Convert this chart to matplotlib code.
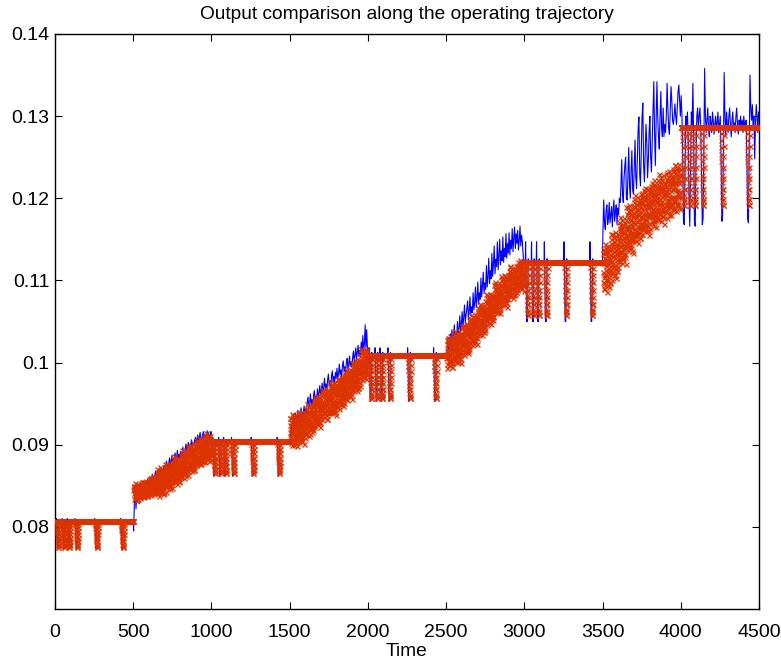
import numpy as np
import matplotlib
matplotlib.use("Agg")
import matplotlib.pyplot as plt

plt.rcParams['font.family'] = ['Liberation Sans', 'DejaVu Sans']

# ---------------- text / axes ----------------
title = "Output comparison along the operating trajectory"
xlabel = "Time"
xticks = [0, 500, 1000, 1500, 2000, 2500, 3000, 3500, 4000, 4500]
yticks = [0.08, 0.09, 0.10, 0.11, 0.12, 0.13, 0.14]
ytick_labels = ['0.08', '0.09', '0.1', '0.11', '0.12', '0.13', '0.14']

# ---------------- plateau (constant set-point) segments ----------------
plateau_start = [0, 1000, 2000, 3000, 4000]
plateau_red = [0.0807, 0.0904, 0.1009, 0.1122, 0.1287]
plateau_red_bottom = [0.0776, 0.0866, 0.0957, 0.1058, 0.1192]
plateau_blue_bottom = [0.0773, 0.0862, 0.0953, 0.1050, 0.1165]
plateau_blue_overshoot = [0.0003, 0.0005, 0.0009, 0.0025]
dip_offsets = [10, 48, 80, 130, 256, 422]
red_dip_profile = [0.08, 0.17, 0.26, 0.35, 0.44, 0.53, 0.62, 0.71, 0.8, 0.88,
                   0.95, 1.0, 1.0, 0.93, 0.8, 0.66, 0.52, 0.38, 0.24, 0.1]
blue_pre_profile = [0.5, 1.0, 0.4]
blue_dip_profile = [0.15, 0.35, 0.55, 0.72, 0.86, 0.95, 1.0, 0.97, 1.0, 0.96,
                    0.85, 0.68, 0.48, 0.28, 0.1, -0.06, -0.04, 0.03, 0.0]

# ---------------- ramp segments (values in 1e-4 units) ----------------
ramp_start = [500, 1500, 2500, 3500]

ramp1_red_a = [
    845, 848, 850, 847, 842, 839, 836, 840, 844, 849, 851, 848, 845, 840, 837, 834, 838, 842, 846, 850, 847, 841, 838, 841, 846,
    842, 839, 843, 847, 852, 855, 851, 846, 841, 838, 840, 844, 850, 854, 852, 847, 843, 839, 837, 842, 848, 851, 855, 849, 844,
    858, 854, 848, 842, 839, 845, 853, 860, 856, 849, 844, 852, 859, 862, 855, 846, 840, 843, 850, 856, 861, 849, 842, 846, 851,
    853, 862, 870, 866, 855, 845, 838, 843, 852, 861, 868, 873, 863, 851, 842, 848, 857, 865, 859, 847, 840, 850, 860, 867, 856,
    870, 877, 867, 857, 849, 843, 852, 864, 873, 868, 859, 850, 855, 865, 875, 871, 860, 853, 846, 856, 867, 874, 878, 863, 854,
    857, 864, 873, 882, 886, 876, 867, 859, 854, 862, 871, 879, 883, 873, 861, 852, 858, 869, 876, 884, 877, 865, 856, 866, 874,
    877, 870, 861, 867, 878, 886, 893, 888, 880, 871, 864, 859, 868, 876, 885, 891, 882, 873, 866, 872, 883, 889, 879, 868, 863,
    899, 890, 879, 871, 876, 885, 893, 900, 895, 882, 874, 868, 878, 889, 896, 902, 891, 880, 873, 869, 881, 892, 898, 888, 875,
    882, 875, 884, 895, 904, 900, 891, 883, 878, 888, 899, 908, 902, 893, 885, 877, 881, 894, 903, 907, 896, 886, 879, 890, 901,
    902, 895, 886, 879, 885, 896, 907, 914, 908, 899, 889, 882, 892, 903, 910, 904, 894, 884, 880, 890, 900, 911, 905, 893, 888]
ramp1_red_b = [
    841, 850, 834, 846, 853, 838, 844, 836, 849, 840, 852, 845, 833, 847, 842, 850, 837, 846, 839, 851, 835, 848, 841, 853, 837,
    851, 843, 855, 839, 847, 836, 850, 854, 842, 846, 838, 852, 848, 841, 856, 845, 851, 837, 853, 843, 847, 840, 855, 841, 849,
    843, 853, 849, 858, 845, 856, 840, 852, 857, 847, 854, 842, 859, 848, 844, 853, 858, 846, 851, 841, 856, 848, 855, 843, 860,
    860, 841, 864, 853, 847, 868, 858, 844, 862, 851, 869, 847, 856, 866, 850, 843, 863, 857, 846, 869, 854, 860, 841, 863, 852,
    855, 873, 863, 850, 869, 859, 876, 852, 865, 854, 872, 860, 848, 867, 871, 856, 851, 875, 858, 866, 853, 872, 861, 847, 869,
    878, 863, 856, 875, 869, 882, 860, 871, 854, 877, 866, 873, 858, 880, 864, 876, 857, 870, 882, 862, 866, 876, 855, 873, 879,
    874, 884, 862, 887, 871, 878, 890, 868, 873, 886, 865, 882, 891, 869, 880, 866, 877, 888, 871, 862, 883, 878, 868, 887, 872,
    897, 875, 889, 881, 895, 870, 891, 886, 878, 898, 873, 887, 883, 892, 872, 889, 895, 876, 882, 893, 869, 888, 898, 879, 884,
    883, 894, 902, 878, 897, 886, 900, 905, 881, 892, 884, 903, 889, 899, 877, 896, 886, 901, 893, 880, 905, 889, 896, 882, 899,
    900, 884, 903, 911, 891, 907, 887, 896, 909, 893, 904, 882, 901, 888, 907, 895, 910, 885, 902, 892, 906, 889, 881, 899, 905]
ramp1_blue = [
    795, 830, 846, 822, 838, 850, 843, 828, 845, 852, 839, 847, 833, 849, 855, 846, 840, 853, 858, 849,
    853, 861, 848, 856, 864, 858, 851, 862, 868, 857, 863, 870, 859, 866, 861, 872, 865, 858, 869, 875,
    866, 873, 880, 871, 868, 878, 884, 874, 880, 887, 877, 872, 884, 890, 881, 886, 893, 882, 888, 884,
    892, 885, 890, 897, 888, 884, 895, 901, 891, 897, 903, 893, 889, 900, 906, 896, 902, 898, 905, 909,
    901, 907, 912, 903, 908, 915, 906, 900, 910, 916, 908, 913, 905, 911, 917, 909, 914, 906, 912, 916]

ramp2_red_a = [
    915, 924, 932, 928, 917, 907, 900, 905, 914, 923, 930, 935, 925, 913, 904, 910, 919, 927, 921, 909, 902, 912, 922, 929, 918,
    922, 915, 906, 912, 923, 931, 938, 933, 925, 916, 909, 904, 913, 921, 930, 936, 927, 918, 911, 917, 928, 934, 924, 913, 908,
    934, 939, 943, 937, 928, 922, 917, 924, 931, 941, 946, 940, 933, 925, 919, 913, 921, 929, 936, 944, 938, 927, 920, 926, 935,
    931, 924, 933, 944, 953, 949, 940, 932, 927, 937, 948, 957, 951, 942, 934, 926, 930, 943, 952, 956, 945, 935, 928, 939, 950,
    942, 935, 944, 951, 961, 966, 958, 949, 940, 934, 938, 946, 956, 964, 960, 950, 943, 936, 931, 941, 952, 959, 967, 955, 945,
    962, 955, 946, 939, 945, 956, 967, 974, 968, 959, 949, 942, 952, 963, 970, 964, 954, 944, 940, 950, 960, 971, 965, 953, 948,
    973, 980, 970, 960, 952, 946, 955, 967, 976, 971, 962, 953, 958, 968, 978, 974, 963, 956, 949, 959, 970, 977, 981, 966, 957,
    985, 978, 970, 961, 957, 966, 977, 987, 981, 972, 964, 976, 986, 990, 980, 968, 959, 963, 973, 982, 988, 971, 962, 967, 975,
    999, 990, 979, 971, 976, 985, 993, 1000, 995, 982, 974, 968, 978, 989, 996, 1002, 991, 980, 973, 969, 981, 992, 998, 988, 975,
    987, 994, 1003, 1012, 1016, 1006, 997, 989, 984, 992, 1001, 1009, 1013, 1003, 991, 982, 988, 999, 1006, 1014, 1007, 995, 986, 996, 1004]
ramp2_red_b = [
    909, 933, 919, 902, 928, 914, 937, 905, 922, 908, 931, 916, 900, 925, 930, 911, 904, 936, 913, 924, 907, 932, 917, 899, 927,
    938, 909, 927, 917, 935, 903, 930, 923, 913, 940, 907, 925, 920, 932, 905, 928, 936, 911, 918, 933, 901, 926, 939, 915, 921,
    927, 944, 913, 936, 949, 921, 931, 916, 941, 924, 947, 933, 910, 938, 929, 943, 919, 935, 923, 946, 915, 939, 926, 950, 918,
    947, 922, 952, 938, 930, 957, 944, 926, 949, 935, 959, 929, 941, 954, 933, 924, 950, 943, 928, 958, 939, 946, 921, 951, 936,
    947, 960, 930, 964, 943, 952, 967, 939, 945, 962, 934, 957, 969, 940, 954, 936, 950, 965, 942, 931, 958, 951, 938, 963, 944,
    961, 940, 965, 976, 949, 970, 944, 956, 973, 952, 966, 938, 962, 946, 971, 955, 975, 942, 964, 951, 969, 947, 936, 960, 968,
    950, 969, 963, 980, 955, 975, 944, 967, 977, 958, 972, 949, 982, 961, 953, 970, 979, 956, 966, 947, 976, 960, 973, 951, 984,
    986, 966, 957, 982, 974, 991, 962, 977, 954, 985, 971, 980, 960, 989, 968, 983, 959, 976, 992, 965, 970, 984, 956, 979, 988,
    973, 988, 999, 967, 992, 978, 996, 1003, 971, 985, 975, 1000, 981, 994, 965, 990, 977, 997, 987, 969, 1002, 982, 991, 972, 995,
    1008, 993, 1016, 985, 1000, 979, 1005, 1013, 990, 998, 982, 1010, 1002, 988, 1017, 996, 1007, 980, 1012, 992, 999, 986, 1015, 989, 1004]
ramp2_blue = [
    905, 915, 928, 918, 912, 932, 925, 938, 921, 930, 942, 926, 934, 928, 945, 933, 927, 940, 947, 936,
    944, 937, 952, 958, 945, 950, 962, 948, 955, 944, 960, 966, 953, 959, 951, 968, 957, 963, 972, 960,
    966, 975, 962, 970, 981, 967, 974, 964, 979, 986, 972, 978, 969, 984, 990, 976, 983, 974, 988, 981,
    993, 980, 987, 998, 985, 991, 983, 996, 1002, 989, 995, 987, 1000, 1005, 992, 998, 1008, 995, 1001, 994,
    1006, 1014, 1000, 1009, 1018, 1004, 1012, 1021, 1007, 1015, 1010, 1025, 1012, 1033, 1015, 1022, 1046, 1018, 1040, 1016]

ramp3_red_a = [
    1005, 998, 1007, 1014, 1024, 1029, 1021, 1012, 1003, 997, 1001, 1009, 1019, 1027, 1023, 1013, 1006, 999, 994, 1004, 1015, 1022, 1030, 1018, 1008,
    1028, 1035, 1025, 1015, 1007, 1001, 1010, 1022, 1031, 1026, 1017, 1008, 1013, 1023, 1033, 1029, 1018, 1011, 1004, 1014, 1025, 1032, 1036, 1021, 1012,
    1044, 1035, 1024, 1016, 1021, 1030, 1038, 1045, 1040, 1027, 1019, 1013, 1023, 1034, 1041, 1047, 1036, 1025, 1018, 1014, 1026, 1037, 1043, 1033, 1020,
    1044, 1049, 1053, 1047, 1038, 1032, 1027, 1034, 1041, 1051, 1056, 1050, 1043, 1035, 1029, 1023, 1031, 1039, 1046, 1054, 1048, 1037, 1030, 1036, 1045,
    1050, 1059, 1067, 1063, 1052, 1042, 1035, 1040, 1049, 1058, 1065, 1070, 1060, 1048, 1039, 1045, 1054, 1062, 1056, 1044, 1037, 1047, 1057, 1064, 1053,
    1066, 1059, 1050, 1056, 1067, 1075, 1082, 1077, 1069, 1060, 1053, 1048, 1057, 1065, 1074, 1080, 1071, 1062, 1055, 1061, 1072, 1078, 1068, 1057, 1052,
    1084, 1077, 1068, 1061, 1067, 1078, 1089, 1096, 1090, 1081, 1071, 1064, 1074, 1085, 1092, 1086, 1076, 1066, 1062, 1072, 1082, 1093, 1087, 1075, 1070,
    1100, 1093, 1085, 1076, 1072, 1081, 1092, 1102, 1096, 1087, 1079, 1091, 1101, 1105, 1095, 1083, 1074, 1078, 1088, 1097, 1103, 1086, 1077, 1082, 1090,
    1087, 1094, 1103, 1112, 1116, 1106, 1097, 1089, 1084, 1092, 1101, 1109, 1113, 1103, 1091, 1082, 1088, 1099, 1106, 1114, 1107, 1095, 1086, 1096, 1104,
    1097, 1090, 1099, 1110, 1119, 1115, 1106, 1098, 1093, 1103, 1114, 1123, 1117, 1108, 1100, 1092, 1096, 1109, 1118, 1122, 1111, 1101, 1094, 1105, 1116]
ramp3_red_b = [
    1010, 1023, 993, 1027, 1006, 1015, 1030, 1002, 1008, 1025, 997, 1020, 1032, 1003, 1017, 999, 1013, 1028, 1005, 994, 1021, 1014, 1001, 1026, 1007,
    1024, 1003, 1028, 1039, 1012, 1033, 1007, 1019, 1036, 1015, 1029, 1001, 1025, 1009, 1034, 1018, 1038, 1005, 1027, 1014, 1032, 1010, 999, 1023, 1031,
    1015, 1034, 1028, 1045, 1020, 1040, 1009, 1032, 1042, 1023, 1037, 1014, 1047, 1026, 1018, 1035, 1044, 1021, 1031, 1012, 1041, 1025, 1038, 1016, 1049,
    1053, 1033, 1024, 1049, 1041, 1058, 1029, 1044, 1021, 1052, 1038, 1047, 1027, 1056, 1035, 1050, 1026, 1043, 1059, 1032, 1037, 1051, 1023, 1046, 1055,
    1041, 1056, 1067, 1035, 1060, 1046, 1064, 1071, 1039, 1053, 1043, 1068, 1049, 1062, 1033, 1058, 1045, 1065, 1055, 1037, 1070, 1050, 1059, 1040, 1063,
    1075, 1060, 1083, 1052, 1067, 1046, 1072, 1080, 1057, 1065, 1049, 1077, 1069, 1055, 1084, 1063, 1074, 1047, 1079, 1059, 1066, 1053, 1082, 1056, 1071,
    1070, 1094, 1080, 1063, 1089, 1075, 1098, 1066, 1083, 1069, 1092, 1077, 1061, 1086, 1091, 1072, 1065, 1097, 1074, 1085, 1068, 1093, 1078, 1060, 1088,
    1105, 1076, 1094, 1084, 1102, 1070, 1097, 1090, 1080, 1107, 1074, 1092, 1087, 1099, 1072, 1095, 1103, 1078, 1085, 1100, 1068, 1093, 1106, 1082, 1088,
    1095, 1112, 1081, 1104, 1117, 1089, 1099, 1084, 1109, 1092, 1115, 1101, 1078, 1106, 1097, 1111, 1087, 1103, 1091, 1114, 1083, 1107, 1094, 1118, 1086,
    1113, 1088, 1118, 1104, 1096, 1123, 1110, 1092, 1115, 1101, 1125, 1095, 1107, 1120, 1099, 1090, 1116, 1109, 1094, 1124, 1105, 1112, 1087, 1117, 1102]
ramp3_blue = [
    1009, 1018, 1031, 1012, 1026, 1035, 1019, 1040, 1024, 1033, 1046, 1028, 1036, 1030, 1050, 1034, 1041, 1057, 1038, 1046,
    1062, 1043, 1055, 1070, 1049, 1058, 1066, 1075, 1052, 1063, 1080, 1057, 1068, 1061, 1085, 1064, 1073, 1092, 1067, 1078,
    1098, 1071, 1085, 1077, 1103, 1080, 1094, 1110, 1084, 1097, 1089, 1118, 1092, 1105, 1127, 1096, 1112, 1102, 1133, 1105,
    1119, 1142, 1108, 1126, 1117, 1147, 1113, 1130, 1150, 1119, 1136, 1124, 1153, 1122, 1139, 1129, 1157, 1127, 1145, 1133,
    1158, 1131, 1149, 1139, 1163, 1135, 1152, 1165, 1139, 1157, 1145, 1161, 1137, 1149, 1166, 1142, 1155, 1147, 1130, 1124]

ramp4_red_a = [
    1133, 1123, 1110, 1097, 1091, 1104, 1121, 1136, 1127, 1113, 1101, 1120, 1135, 1141, 1126, 1107, 1094, 1100, 1115, 1129, 1138, 1112, 1098, 1106, 1118,
    1113, 1124, 1138, 1151, 1157, 1142, 1128, 1116, 1109, 1121, 1135, 1147, 1153, 1138, 1119, 1106, 1115, 1132, 1142, 1154, 1144, 1125, 1112, 1127, 1139,
    1133, 1123, 1136, 1153, 1167, 1161, 1147, 1135, 1127, 1142, 1159, 1173, 1164, 1150, 1138, 1126, 1132, 1152, 1165, 1171, 1155, 1139, 1129, 1145, 1162,
    1152, 1142, 1155, 1166, 1181, 1189, 1177, 1163, 1149, 1140, 1146, 1158, 1174, 1186, 1180, 1165, 1154, 1143, 1136, 1151, 1168, 1178, 1190, 1172, 1157,
    1189, 1199, 1184, 1169, 1157, 1148, 1161, 1180, 1193, 1186, 1172, 1158, 1166, 1181, 1196, 1190, 1173, 1163, 1152, 1167, 1184, 1195, 1201, 1178, 1164,
    1207, 1193, 1176, 1164, 1172, 1186, 1198, 1208, 1201, 1181, 1169, 1160, 1175, 1192, 1202, 1211, 1195, 1178, 1167, 1161, 1179, 1196, 1205, 1190, 1170,
    1198, 1206, 1212, 1203, 1189, 1180, 1172, 1183, 1194, 1209, 1216, 1207, 1197, 1184, 1175, 1166, 1178, 1190, 1201, 1213, 1204, 1187, 1177, 1186, 1200,
    1196, 1210, 1222, 1216, 1199, 1184, 1173, 1181, 1194, 1208, 1219, 1226, 1211, 1193, 1179, 1188, 1202, 1214, 1205, 1187, 1176, 1191, 1207, 1217, 1201,
    1208, 1197, 1183, 1192, 1209, 1221, 1232, 1224, 1212, 1198, 1188, 1180, 1194, 1206, 1220, 1229, 1215, 1201, 1191, 1200, 1217, 1226, 1211, 1194, 1186,
    1222, 1211, 1198, 1187, 1196, 1213, 1230, 1240, 1231, 1218, 1202, 1192, 1207, 1224, 1234, 1225, 1210, 1195, 1189, 1204, 1219, 1236, 1227, 1208, 1201]
ramp4_red_b = [
    1098, 1121, 1138, 1089, 1127, 1106, 1133, 1144, 1095, 1117, 1101, 1139, 1110, 1130, 1086, 1124, 1104, 1135, 1120, 1092, 1142, 1112, 1126, 1097, 1132,
    1145, 1122, 1157, 1110, 1133, 1101, 1141, 1153, 1118, 1130, 1106, 1148, 1136, 1115, 1159, 1127, 1144, 1103, 1151, 1121, 1132, 1112, 1156, 1116, 1139,
    1135, 1171, 1150, 1124, 1164, 1142, 1177, 1129, 1155, 1133, 1168, 1145, 1121, 1159, 1167, 1138, 1127, 1176, 1141, 1158, 1132, 1170, 1147, 1120, 1162,
    1189, 1145, 1172, 1157, 1184, 1136, 1177, 1166, 1151, 1192, 1142, 1169, 1161, 1180, 1139, 1174, 1186, 1148, 1158, 1181, 1133, 1171, 1190, 1154, 1163,
    1170, 1196, 1149, 1184, 1204, 1161, 1177, 1154, 1192, 1166, 1201, 1180, 1145, 1187, 1173, 1195, 1158, 1183, 1164, 1199, 1152, 1189, 1169, 1205, 1157,
    1195, 1157, 1202, 1181, 1169, 1210, 1190, 1163, 1198, 1176, 1213, 1167, 1186, 1205, 1173, 1160, 1199, 1189, 1166, 1211, 1182, 1193, 1155, 1201, 1178,
    1189, 1209, 1163, 1215, 1183, 1197, 1219, 1177, 1186, 1212, 1169, 1204, 1222, 1178, 1200, 1172, 1194, 1216, 1181, 1165, 1206, 1195, 1175, 1213, 1184,
    1207, 1175, 1213, 1229, 1188, 1220, 1181, 1199, 1225, 1193, 1214, 1172, 1208, 1184, 1222, 1197, 1228, 1178, 1211, 1191, 1219, 1185, 1169, 1205, 1217,
    1185, 1214, 1204, 1230, 1192, 1223, 1176, 1211, 1226, 1197, 1218, 1183, 1233, 1201, 1189, 1215, 1229, 1194, 1209, 1180, 1224, 1200, 1220, 1186, 1236,
    1233, 1202, 1189, 1227, 1215, 1240, 1196, 1219, 1184, 1231, 1210, 1224, 1193, 1237, 1205, 1228, 1192, 1218, 1242, 1201, 1208, 1230, 1187, 1222, 1236]
ramp4_blue = [
    1160, 1198, 1170, 1162, 1185, 1192, 1168, 1175, 1195, 1170, 1180, 1190, 1165, 1185, 1198, 1172, 1183, 1192, 1168, 1188,
    1180, 1200, 1195, 1215, 1247, 1205, 1195, 1225, 1240, 1250, 1200, 1198, 1230, 1262, 1215, 1200, 1235, 1258, 1210, 1205,
    1240, 1271, 1225, 1212, 1250, 1285, 1299, 1230, 1215, 1260, 1300, 1316, 1240, 1220, 1255, 1290, 1270, 1225, 1245, 1280,
    1300, 1250, 1232, 1270, 1310, 1342, 1280, 1240, 1295, 1342, 1300, 1275, 1260, 1300, 1330, 1285, 1275, 1310, 1275, 1290,
    1280, 1300, 1340, 1310, 1285, 1278, 1305, 1336, 1320, 1295, 1290, 1300, 1315, 1300, 1290, 1310, 1330, 1338, 1320, 1300]

# measured output on the last plateau (every 5 time units, 1e-4 units)
last_blue = [1325, 1300, 1250, 1170, 1168, 1240, 1300, 1285, 1305, 1275,
             1200, 1166, 1230, 1305, 1290, 1340, 1270, 1170, 1166, 1250,
             1300, 1310, 1285, 1300, 1310, 1290, 1230, 1168, 1175, 1260,
             1358, 1300, 1280, 1295, 1310, 1285, 1275, 1300, 1292, 1280,
             1305, 1295, 1278, 1290, 1300, 1285, 1292, 1305, 1280, 1290,
             1300, 1250, 1172, 1180, 1260, 1353, 1300, 1275, 1305, 1290,
             1280, 1300, 1310, 1288, 1275, 1295, 1305, 1285, 1292, 1280,
             1300, 1310, 1290, 1278, 1295, 1288, 1300, 1285, 1295, 1280,
             1300, 1290, 1285, 1295, 1250, 1175, 1170, 1260, 1350, 1310,
             1295, 1314, 1285, 1300, 1248, 1290, 1314, 1300, 1280, 1305]

ramp_red_a = [ramp1_red_a, ramp2_red_a, ramp3_red_a, ramp4_red_a]
ramp_red_b = [ramp1_red_b, ramp2_red_b, ramp3_red_b, ramp4_red_b]
ramp_blue = [ramp1_blue, ramp2_blue, ramp3_blue, ramp4_blue]
SCALE = 1e-4
SEG = 500

# ---------------- build series ----------------
blue_t, blue_y, red_t, red_y = [], [], [], []
for i in range(5):
    s = plateau_start[i]
    lvl = plateau_red[i]
    t = np.arange(s, s + SEG)
    r = np.full(SEG, lvl)
    for o in dip_offsets:
        for j, f in enumerate(red_dip_profile):
            r[o + j] = lvl - f * (lvl - plateau_red_bottom[i])
    red_t.append(t)
    red_y.append(r)
    if i < 4:
        b = np.full(SEG, lvl)
        for o in dip_offsets:
            for j, f in enumerate(blue_pre_profile):
                b[o - len(blue_pre_profile) + j] = lvl + f * plateau_blue_overshoot[i]
            for j, f in enumerate(blue_dip_profile):
                b[o + j] = lvl - f * (lvl - plateau_blue_bottom[i])
        blue_t.append(t)
        blue_y.append(b)
        rs = ramp_start[i]
        rb = np.array(ramp_blue[i]) * SCALE
        ra = np.array(ramp_red_a[i]) * SCALE
        rbb = np.array(ramp_red_b[i]) * SCALE
        blue_t.append(np.linspace(rs + 2.5, rs + SEG - 2.5, len(rb)))
        blue_y.append(rb)
        red_t.append(np.linspace(rs + 1, rs + SEG - 1, len(ra)))
        red_y.append(ra)
        red_t.append(np.linspace(rs + 2, rs + SEG - 0.5, len(rbb)))
        red_y.append(rbb)
    else:
        lb = np.array(last_blue) * SCALE
        blue_t.append(np.linspace(s + 2.5, s + SEG - 2.5, len(lb)))
        blue_y.append(lb)

blue_t = np.concatenate(blue_t)
blue_y = np.concatenate(blue_y)
red_t = np.concatenate(red_t)
red_y = np.concatenate(red_y)

# ---------------- plot ----------------
fig = plt.figure(figsize=(7.81, 6.62), dpi=100)
ax = fig.add_axes([55 / 781, 1 - 609 / 662, 704 / 781, 575 / 662])

ax.plot(blue_t, blue_y, color='#0000ff', lw=0.8, zorder=2)
ax.plot(red_t, red_y, linestyle='none', marker='x', color='#dd3300',
        markersize=3.6, markeredgewidth=0.9, zorder=3)

ax.set_xlim(0, 4500)
ax.set_ylim(0.07, 0.14)
ax.set_xticks(xticks)
ax.set_xticklabels([str(v) for v in xticks])
ax.set_yticks(yticks)
ax.set_yticklabels(ytick_labels)
ax.tick_params(direction='in', length=5, width=0.8, top=True, right=True,
               labelsize=14, colors='black')
ax.tick_params(axis='x', pad=11)
ax.tick_params(axis='y', pad=4)
for sp in ax.spines.values():
    sp.set_linewidth(1.0)
    sp.set_color('black')

ax.set_title(title, fontsize=13.8, pad=11)
ax.set_xlabel(xlabel, fontsize=13.8, labelpad=1.5)

fig.savefig("out.png", dpi=100)
